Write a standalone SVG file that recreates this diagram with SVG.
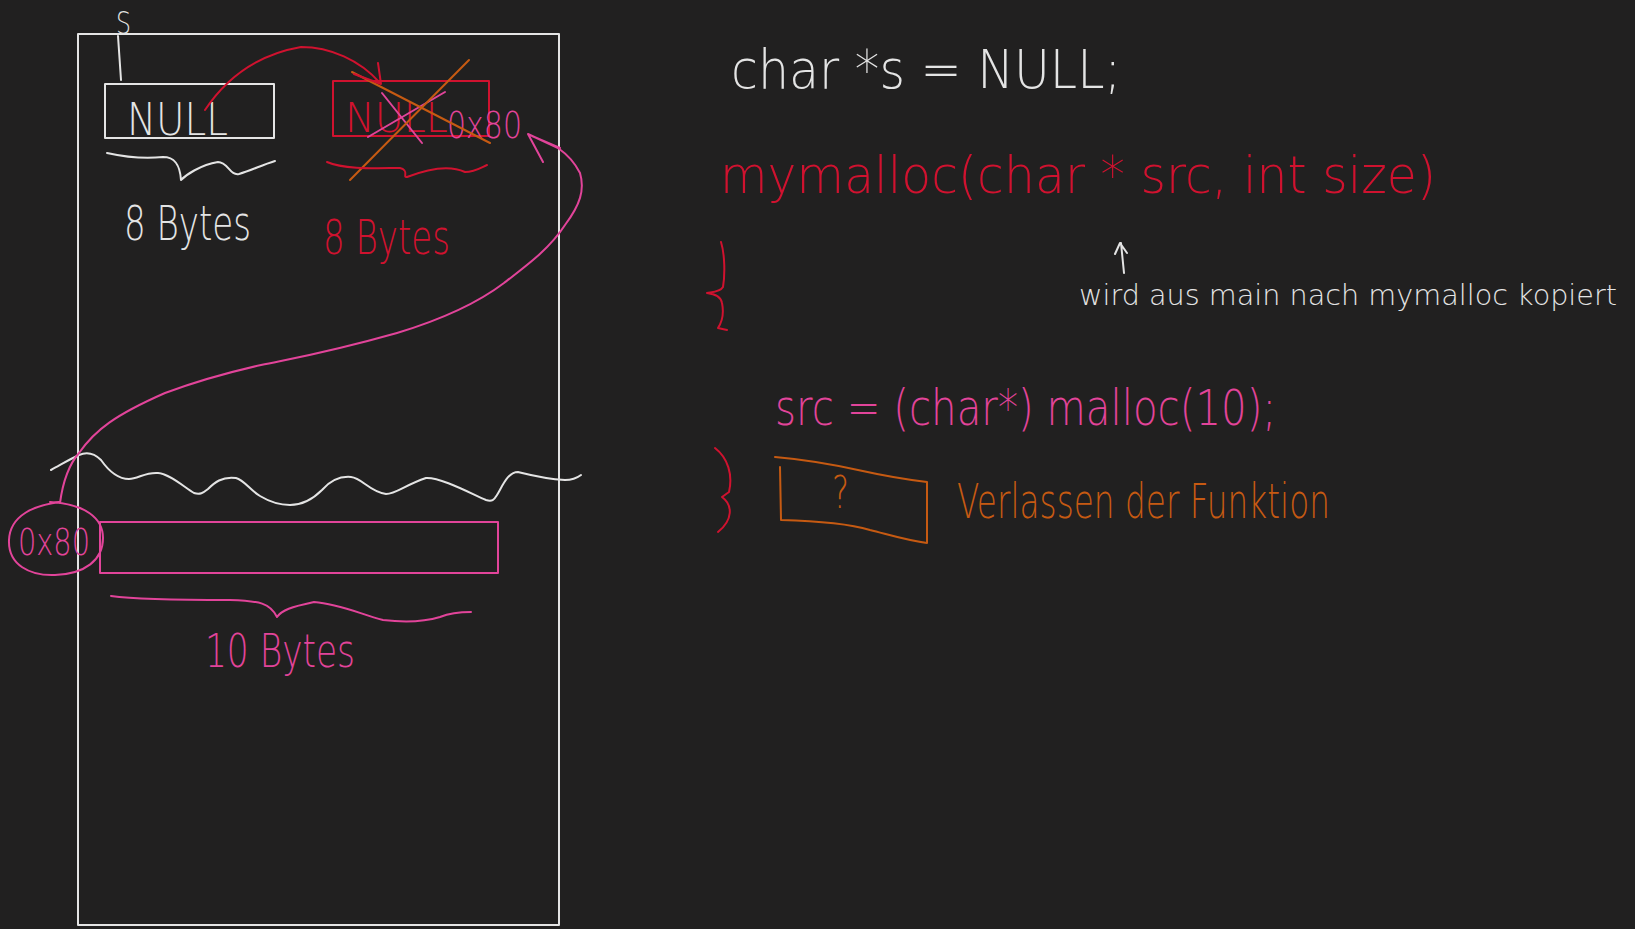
<svg xmlns="http://www.w3.org/2000/svg" width="1635" height="929" viewBox="0 0 1635 929">
<style>
.s{fill:none;stroke-width:2;stroke-linecap:round;stroke-linejoin:round}
.w{stroke:#e4e4e4}
.r{stroke:#d0122f}
.p{stroke:#e2449a}
.o{stroke:#c65a12}
text{font-family:"DejaVu Sans","Liberation Sans",sans-serif;font-weight:200}
.tw{fill:#e4e4e4}
.tr{fill:#d0122f}
.tp{fill:#e2449a}
.to{fill:#c65a12}
</style>
<rect width="1635" height="929" fill="#212020"/>
<g id="stack">
<rect x="78" y="34" width="481" height="891" class="s w"/>
</g>
<g id="var-s">
<text x="116" y="34" font-size="32" class="tw" textLength="15" lengthAdjust="spacingAndGlyphs">S</text>
<path class="s w" d="M118,36 L121,80"/>
</g>
<g id="box-null">
<rect x="105" y="84" width="169" height="54" class="s w"/>
<text x="127" y="135" font-size="44" class="tw" textLength="101" lengthAdjust="spacingAndGlyphs">NULL</text>
<path class="s w" d="M107,153 C125,157 145,159 163,157 C175,157 180,165 181,180 C186,175 200,165 218,162 C228,162 230,176 239,174 C252,170 262,165 275,161"/>
<text x="124" y="240" font-size="48" class="tw" textLength="127" lengthAdjust="spacingAndGlyphs">8 Bytes</text>
</g>
<g id="box-src">
<rect x="333" y="81" width="156" height="55" class="s r"/>
<text x="345" y="132" font-size="40" class="tr" textLength="103" lengthAdjust="spacingAndGlyphs">NULL</text>
<text x="447" y="138" font-size="38" class="tp" textLength="75" lengthAdjust="spacingAndGlyphs">0x80</text>
<path class="s p" d="M368,137 L445,92 M382,93 L422,143"/>
<path class="s o" d="M350,180 L469,60 M352,72 L490,143"/>
<path class="s r" d="M327,162 C345,170 380,168 400,168 C410,170 402,178 407,177 C430,168 450,165 465,172 C475,172 482,167 487,165"/>
<text x="323" y="254" font-size="48" class="tr" textLength="127" lengthAdjust="spacingAndGlyphs">8 Bytes</text>
</g>
<g id="heap">
<rect x="100" y="522" width="398" height="51" class="s p"/>
<path class="s p" d="M60,502 C35,505 10,515 9,540 C8,565 30,576 55,575 C85,574 103,560 103,538 C103,518 85,504 50,502"/>
<text x="18" y="555" font-size="38" class="tp" textLength="72" lengthAdjust="spacingAndGlyphs">0x80</text>
<path class="s p" d="M111,596 C140,600 200,600 230,600 C260,601 270,603 277,617 C282,610 291,607 314,602 C340,604 360,614 383,620 C400,622 420,623 440,617 C450,613 460,612 471,612"/>
<text x="205" y="667" font-size="46" class="tp" textLength="150" lengthAdjust="spacingAndGlyphs">10 Bytes</text>
</g>
<g id="heap-boundary">
<path class="s w" d="M51,470 C62,464 72,458 79,455 C88,451 95,454 101,460 C108,470 118,479 129,479 C138,479 145,472 158,473 C170,474 184,487 194,493 C200,495 203,493 208,489 C214,483 222,476 236,478 C244,480 250,490 260,496 C270,502 280,505 290,505 C305,505 315,497 322,490 C330,481 340,476 351,477 C362,478 370,492 386,494 C396,494 405,485 426,478 C440,477 470,493 486,500 C492,502 494,500 497,495 C503,485 508,472 518,472 C530,475 545,479 565,480 C572,480 577,478 581,475"/>
</g>
<g id="connectors">
<path class="s r" d="M205,110 C225,80 255,55 301,47 C330,47 360,60 380,83"/>
<path class="s r" d="M378,63 L381,84 L354,74"/>
<path class="s p" d="M60,503 C62,488 66,468 79,453 C95,430 115,415 165,393 C200,380 230,372 261,365 C300,357 326,353 397,333 C440,320 475,305 504,283 C530,263 550,248 565,225 C580,205 585,190 580,173 C575,163 568,155 558,148 L528,134 L543,162 M532,136 L560,148"/>
<path class="s w" d="M1121,243 L1124,273 M1115,254 L1120,243 L1127,253"/>
</g>
<g id="code">
<text x="731" y="88" font-size="54" class="tw" textLength="390" lengthAdjust="spacingAndGlyphs">char *s = NULL;</text>
<text x="720" y="193" font-size="52" class="tr" textLength="716" lengthAdjust="spacingAndGlyphs">mymalloc(char * src, int size)</text>
<path class="s r" d="M721,242 C725,255 725,275 723,287 C720,292 712,292 707,293 C715,294 721,297 722,303 C724,313 722,322 718,328 L727,330"/>
<text x="1079" y="305" font-size="29" class="tw" textLength="538" lengthAdjust="spacingAndGlyphs">wird aus main nach mymalloc kopiert</text>
<text x="775" y="425" font-size="50" class="tp" textLength="501" lengthAdjust="spacingAndGlyphs">src = (char*) malloc(10);</text>
<path class="s r" d="M715,448 C728,458 733,475 729,492 L722,497 C733,505 733,520 718,532"/>
</g>
<g id="exit-box">
<path class="s o" d="M775,457 C810,460 835,465 858,470 C885,476 910,480 927,482 L927,543 C905,540 890,535 870,530 C850,524 820,521 781,520 L780,467"/>
<text x="832" y="508" font-size="44" class="to" textLength="17" lengthAdjust="spacingAndGlyphs">?</text>
<text x="957" y="518" font-size="48" class="to" textLength="373" lengthAdjust="spacingAndGlyphs">Verlassen der Funktion</text>
</g>
</svg>
